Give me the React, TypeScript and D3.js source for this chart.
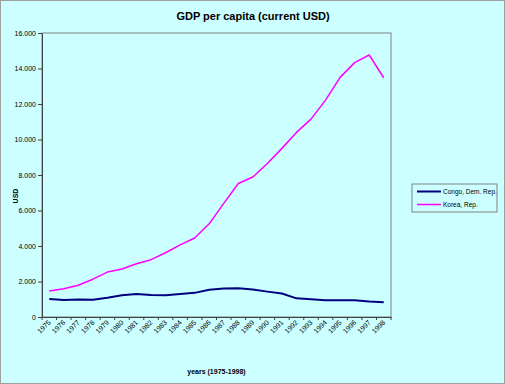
import { useEffect, useRef } from 'react';
import * as d3 from 'd3';

const years = [
  '1975', '1976', '1977', '1978', '1979', '1980', '1981', '1982', '1983', '1984', '1985', '1986',
  '1987', '1988', '1989', '1990', '1991', '1992', '1993', '1994', '1995', '1996', '1997', '1998',
];

const congo = [
  1020, 960, 990, 970, 1090, 1230, 1300, 1240, 1220, 1300, 1360, 1530,
  1600, 1620, 1550, 1430, 1320, 1050, 1000, 940, 940, 940, 870, 830,
];

const korea = [
  1460, 1590, 1790, 2130, 2530, 2700, 3000, 3230, 3620, 4060, 4450, 5250,
  6400, 7520, 7890, 8650, 9500, 10400, 11150, 12220, 13500, 14330, 14760, 13480,
];

const yTicks = [0, 2000, 4000, 6000, 8000, 10000, 12000, 14000, 16000];

const seriesNames = ['Congo, Dem. Rep.', 'Korea, Rep.'];
const seriesColors = ['#000080', '#ff00ff'];

const FONT = 'Liberation Sans, Arial, sans-serif';

export default function App() {
  const ref = useRef<SVGSVGElement>(null);

  useEffect(() => {
    if (!ref.current) return;
    const svg = d3.select(ref.current);
    svg.selectAll('*').remove();

    const W = 505, H = 384;
    const plot = { left: 42, right: 391, top: 33, bottom: 317 };

    svg.append('rect').attr('width', W).attr('height', H).attr('fill', '#ccffff');

    const x = d3.scaleBand().domain(years).range([plot.left, plot.right]).padding(0);
    const y = d3.scaleLinear().domain([0, 16000]).range([plot.bottom, plot.top]);
    const cx = (yr: string) => (x(yr) as number) + x.bandwidth() / 2;

    const locale = d3.formatLocale({ decimal: ',', thousands: '.', grouping: [3], currency: ['', ''] });
    const fmt = locale.format(',');

    // plot frame
    svg.append('rect')
      .attr('x', plot.left).attr('y', plot.top)
      .attr('width', plot.right - plot.left).attr('height', plot.bottom - plot.top)
      .attr('fill', '#ccffff').attr('stroke', '#808080').attr('stroke-width', 1);

    // y axis
    const yAxis = svg.append('g')
      .attr('transform', `translate(${plot.left},0)`)
      .call(d3.axisLeft(y).tickValues(yTicks).tickSize(4).tickSizeOuter(0).tickPadding(2).tickFormat(d => fmt(d as number)));
    yAxis.select('.domain').attr('stroke', '#404040');
    yAxis.selectAll('line').attr('stroke', '#404040');
    yAxis.selectAll('text').attr('font-family', FONT).attr('font-size', 7).attr('fill', '#000');

    // x axis
    const xAxis = svg.append('g')
      .attr('transform', `translate(0,${plot.bottom})`)
      .call(d3.axisBottom(x).tickSize(0).tickSizeOuter(0).tickFormat(() => ''));
    xAxis.select('.domain').attr('stroke', '#404040');
    xAxis.selectAll('.tick').remove();

    const bounds = years.map(yr => x(yr) as number).concat([plot.right]);
    svg.append('g').selectAll('line').data(bounds).join('line')
      .attr('x1', d => d).attr('x2', d => d)
      .attr('y1', plot.bottom).attr('y2', plot.bottom + 3)
      .attr('stroke', '#404040');

    svg.append('g').selectAll('text').data(years).join('text')
      .attr('transform', d => `translate(${cx(d) + 2},${plot.bottom + 6}) rotate(-45)`)
      .attr('text-anchor', 'end')
      .attr('font-family', FONT).attr('font-size', 7)
      .text(d => d);

    // lines
    const line = d3.line<number>()
      .x((_, i) => cx(years[i]))
      .y(d => y(d));

    [congo, korea].forEach((vals, i) => {
      svg.append('path')
        .datum(vals)
        .attr('fill', 'none')
        .attr('stroke', seriesColors[i])
        .attr('stroke-width', i === 0 ? 2 : 1.5)
        .attr('stroke-linejoin', 'round')
        .attr('d', line);
    });

    // titles
    svg.append('text')
      .attr('x', 253).attr('y', 20)
      .attr('text-anchor', 'middle')
      .attr('font-family', FONT).attr('font-size', 11).attr('font-weight', 'bold')
      .text('GDP per capita (current USD)');

    svg.append('text')
      .attr('x', (plot.left + plot.right) / 2).attr('y', 374)
      .attr('text-anchor', 'middle')
      .attr('font-family', FONT).attr('font-size', 7).attr('font-weight', 'bold')
      .text('years (1975-1998)');

    svg.append('text')
      .attr('transform', 'translate(18,196) rotate(-90)')
      .attr('text-anchor', 'middle')
      .attr('font-family', FONT).attr('font-size', 7).attr('font-weight', 'bold')
      .text('USD');

    // legend
    const lg = svg.append('g');
    lg.append('rect')
      .attr('x', 412).attr('y', 184).attr('width', 85).attr('height', 28)
      .attr('fill', '#ccffff').attr('stroke', '#808080');
    seriesNames.forEach((name, i) => {
      const ly = 191.5 + i * 13;
      lg.append('line')
        .attr('x1', 417).attr('x2', 441).attr('y1', ly).attr('y2', ly)
        .attr('stroke', seriesColors[i]).attr('stroke-width', i === 0 ? 2 : 1.5);
      lg.append('text')
        .attr('x', 443).attr('y', ly + 2.5)
        .attr('font-family', FONT).attr('font-size', 6.5)
        .text(name);
    });

    // outer frame
    svg.append('rect').attr('x', 0.5).attr('y', 0.5).attr('width', W - 1).attr('height', H - 1)
      .attr('fill', 'none').attr('stroke', '#a0a0a0');
  }, []);

  return (
    <svg
      ref={ref}
      width={505}
      height={384}
      style={{ position: 'absolute', left: 0, top: 0, display: 'block' }}
    />
  );
}
